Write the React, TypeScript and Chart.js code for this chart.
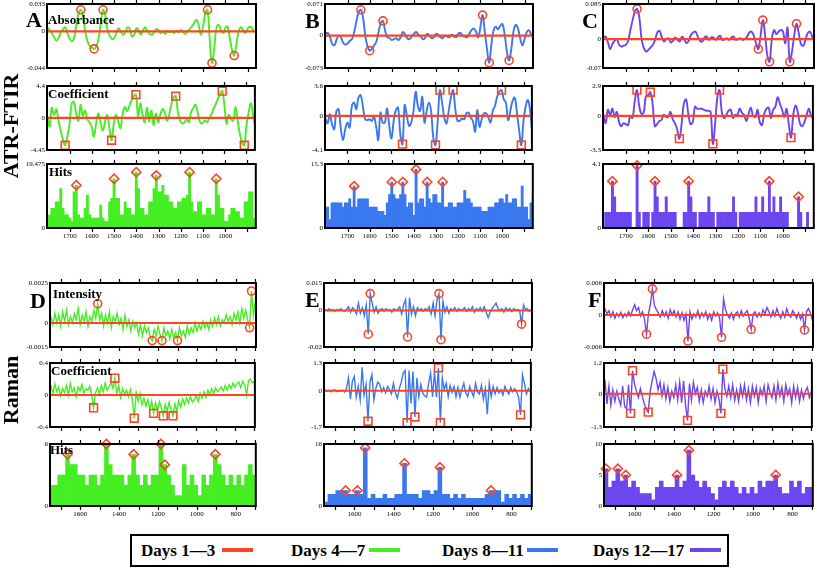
import React, { useEffect, useRef } from 'react';
import { Chart, registerables } from 'chart.js';

Chart.register(...registerables);

const SERIF = "'Liberation Serif', 'Times New Roman', Times, serif";
Chart.defaults.font.family = SERIF;

// ---------- colours ----------
const GREEN = '#44ee22';
const BLUE = '#3a78f0';
const PURPLE = '#6e46f0';
const RED = '#ff4422';

// ---------- legend ----------
const SERIES_NAMES = ['Days 1\u20143', 'Days 4\u20147', 'Days 8\u201411', 'Days 12\u201417'];
const SERIES_COLORS = [RED, GREEN, BLUE, PURPLE];

// ---------- x axes ----------
const ATR_X_MAX = 1802;
const ATR_X_MIN = 862;
const ATR_X_TICKS = [1700, 1600, 1500, 1400, 1300, 1200, 1100, 1000, 900];
const ATR_X_LABELS = ['1700', '1600', '1500', '1400', '1300', '1200', '1100', '1000', ''];
const RAMAN_X_MAX = 1755;
const RAMAN_X_MIN = 697;
const RAMAN_X_TICKS = [1700, 1600, 1500, 1400, 1300, 1200, 1100, 1000, 900, 800, 700];
const RAMAN_X_LABELS = ['', '1600', '', '1400', '', '1200', '', '1000', '', '800', ''];

// wavenumber sampling positions (categories)
const ATR_WN = Array.from({ length: 96 }, (_, i) => 1800 - 10 * i);
const RAMAN_WN = Array.from({ length: 106 }, (_, i) => 1750 - 10 * i);
const RAMAN_BIN_WN = Array.from({ length: 53 }, (_, i) => 1745 - 20 * i);

// ---------- ATR-FTIR, days 4-7 (A) ----------
const A_ABS = [0.004,0.002,-0.002,-0.007,-0.011,-0.008,-0.001,0.003,0.005,-0.002,-0.009,-0.012,-0.008,0.008,0.022,0.026,0.018,0,-0.012,-0.017,-0.019,-0.021,-0.018,-0.008,0.010,0.026,0.020,0.002,-0.005,-0.009,-0.008,-0.002,0.004,0,-0.004,-0.001,0.005,0.003,-0.006,-0.004,0.004,0.001,-0.004,0.001,0.005,0,-0.003,-0.004,-0.001,0.003,0.001,-0.002,0,-0.003,0.001,-0.001,0,-0.002,0.001,-0.001,0.002,-0.001,-0.003,0,0.003,0.006,0.010,0.014,0.008,-0.004,0.006,0.022,0.026,-0.010,-0.038,-0.020,0.004,0.008,0.002,-0.002,0.004,0.006,-0.008,-0.022,-0.029,-0.015,0,0.005,0.002,-0.002,0.003,0.006,0.004,0,0.001,0];
const A_ABS_MARKS = [15, 21, 25, 72, 74, 84];
const A_COEF = [0.2,-1.2,1.4,0.4,1.2,-0.4,-1.8,-3.0,-3.8,-2.6,-0.8,2.0,2.2,0.6,-0.4,1.8,0.3,1.0,-0.2,-0.6,-1.2,-2.6,-0.8,0.6,-0.6,-1.8,-0.6,0.4,-1.4,-3.1,-0.8,0.4,-0.5,-1.4,0.5,1.5,0.9,1.6,2.4,3.0,3.2,0.2,2.0,0.4,-0.6,1.4,-0.5,1.0,-1.0,0.6,-0.6,0.4,1.2,0.8,-0.4,0.4,1.8,2.8,3.0,0.8,-0.4,-0.8,-0.6,-0.2,-0.6,0.8,1.4,1.8,0.6,-0.6,-0.8,-0.4,-0.6,-0.2,0.4,1.2,1.8,2.6,3.2,3.7,1.8,-0.8,0.4,-0.2,-0.4,1.5,-0.4,-2.2,-3.4,-3.8,-1.0,0.8,2.0,0.4,-1.2,-1.9];
const A_COEF_MARKS = [8, 29, 40, 58, 79, 89];
const A_HITS = [3,4,6,6,8,8,12,6,4,4,3,2,11,13,4,3,3,6,10,4,3,3,3,3,7,3,2,2,8,9,15,9,9,4,4,8,6,6,4,4,17,12,6,6,4,4,8,8,12,16,11,11,13,10,10,8,8,6,6,8,8,9,9,10,17,8,5,5,8,8,4,4,6,6,4,4,15,10,6,6,2,2,4,6,6,5,5,3,3,8,8,11,11,3,3,3];
const A_HITS_MARKS = [13, 30, 40, 49, 64, 76];

// ---------- ATR-FTIR, days 8-11 (B) ----------
const B_ABS = [0.004,0.006,-0.002,-0.018,-0.022,-0.010,0,-0.004,-0.016,-0.020,-0.018,-0.012,-0.008,0.008,0.032,0.052,0.058,0.040,0,-0.024,-0.034,-0.030,-0.022,-0.014,0.008,0.028,0.033,0.010,-0.004,-0.006,-0.010,-0.008,-0.006,-0.010,-0.004,0.008,0.002,-0.006,-0.008,-0.002,0.004,0.008,0.002,-0.002,-0.008,-0.006,0.004,0,-0.006,-0.004,0.004,0.002,-0.004,-0.006,0,-0.002,-0.004,0.002,-0.002,-0.004,0.004,0.006,0,-0.002,-0.004,0.004,0.012,0.016,0.010,-0.004,0.018,0.046,0.010,-0.030,-0.061,-0.020,0.012,0.020,0.014,0.022,0.026,0.002,-0.036,-0.056,-0.030,0.010,0.024,0.016,-0.006,-0.022,-0.008,0.008,0.012,0.002,-0.002,-0.004];
const B_ABS_MARKS = [16, 20, 26, 71, 74, 83];
const B_COEF = [-0.3,-0.9,0.2,-1.0,-1.6,0.6,0.8,-1.6,-2.9,-1.6,-0.8,-1.4,1.2,1.6,0.8,2.2,2.5,1.2,-0.4,-0.5,-0.4,-0.6,-0.1,-1.2,-2.9,0.4,-0.8,-0.8,0.9,-1.2,-2.7,-0.6,0.7,1.0,-2.2,-3.4,1.3,0.0,-1.2,-0.8,0.6,2.9,1.2,0.6,2.3,-0.8,0.6,1.6,0.6,-2.6,-3.5,-0.6,3.1,1.6,-0.2,-0.9,0.6,2.2,3.1,0.8,-0.6,-0.6,-0.3,-0.4,0.3,0.4,-0.2,-0.6,-1.9,0.7,-1.3,-0.4,0.3,0.3,-0.2,-0.8,0.6,1.2,2.3,2.9,3.1,2.0,1.6,-0.5,0.6,1.8,2.2,0.4,-1.7,-3.5,-0.6,1.2,1.9,0.6,-2.0,-2.4];
const B_COEF_MARKS = [35, 50, 52, 58, 80, 89];
const B_HITS = [5,5,2,6,6,6,6,6,5,6,6,7,5,10,5,7,7,7,7,7,5,5,5,5,4,4,4,3,6,8,11,8,7,7,8,11,8,5,6,6,3,14,6,7,7,5,11,7,6,8,8,6,6,11,5,5,6,6,5,5,6,6,6,9,7,7,6,5,5,5,5,4,4,4,5,5,5,6,6,7,7,6,8,6,6,7,7,5,5,10,5,5,2,6,8,8];
const B_HITS_MARKS = [13, 30, 35, 41, 46, 53];

// ---------- ATR-FTIR, days 12-17 (C) ----------
const C_ABS = [0.005,0.006,-0.008,-0.024,-0.012,-0.004,0,-0.014,-0.018,-0.016,-0.014,-0.004,0.022,0.046,0.066,0.073,0.052,0,-0.022,-0.030,-0.026,-0.020,-0.014,-0.002,0.016,0.020,0.004,-0.006,0,0.002,-0.008,-0.004,0.004,-0.002,-0.006,0.006,0,-0.010,-0.004,0.010,0.016,0.018,0.006,-0.004,-0.006,0.004,0.006,-0.002,0.004,0.004,-0.002,0.004,0.008,-0.002,0,0.002,-0.002,0.004,0.006,-0.002,0,0.002,-0.002,0,0.006,0.016,0.018,0.008,-0.010,-0.024,0.008,0.046,0.010,-0.040,-0.055,0,0.022,0.012,0.018,0.022,0.018,-0.010,0.028,-0.055,-0.030,0.010,0.037,0.014,-0.012,-0.016,-0.002,0.014,0.018,0.006,-0.006,-0.006];
const C_ABS_MARKS = [15, 69, 71, 74, 83, 86];
const C_COEF = [0.1,-0.7,0.6,0.1,0.7,-0.1,0.4,-0.6,-1.0,-0.7,-0.8,-0.9,0.0,-0.2,1.4,2.5,1.0,0.2,0.3,1.9,2.0,2.3,1.2,-1.0,-0.8,-0.5,-0.4,0.1,-0.1,-0.1,0.4,-0.3,-0.7,-1.3,-2.2,-0.8,1.2,1.6,0.2,-0.8,-0.6,0.9,0.7,0.7,0.7,0.6,0.5,0.5,0.4,-2.7,-0.8,1.8,2.5,0.4,-0.2,0.1,0.5,0.6,-0.2,0.1,0.1,0.7,0.3,0.1,-0.5,0.2,0.8,0.0,-0.1,0.6,-0.6,-0.9,0.2,0.7,0.8,-0.2,0.6,0.9,1.8,1.2,0.6,-0.1,0.7,-0.8,-2.1,0.1,1.0,0.4,-0.7,-1.0,-0.6,0.1,0.7,0.0,-0.2,0.1];
const C_COEF_MARKS = [15, 21, 34, 49, 52, 84];
const C_HITS = [0,1,1,1,3,2,1,1,1,1,1,1,1,0,0,4,1,0,1,1,1,0,1,3,2,1,1,1,2,1,1,1,1,0,0,0,1,1,3,2,1,1,0,1,1,1,1,2,1,1,0,1,1,1,1,1,1,1,2,1,0,1,1,1,1,1,1,1,2,1,1,2,1,1,3,1,2,1,1,2,1,1,1,0,0,0,0,2,1,0,0,1,0,0,0,0];
const C_HITS_MARKS = [4, 15, 23, 38, 74, 87];

// ---------- Raman, days 4-7 (D) ----------
const D_INT = [4e-4,-1e-4,6e-4,0,5e-4,-2e-4,7e-4,1e-4,8e-4,-1e-4,4e-4,0,6e-4,2e-4,9e-4,-1e-4,5e-4,1e-4,7e-4,-2e-4,4e-4,1e-4,8e-4,3e-4,12e-4,2e-4,6e-4,-2e-4,5e-4,0,7e-4,-3e-4,4e-4,1e-4,6e-4,-1e-4,3e-4,-4e-4,5e-4,-2e-4,2e-4,-5e-4,1e-4,-3e-4,0,-7e-4,-1e-4,-8e-4,-2e-4,-6e-4,-3e-4,-9e-4,-11e-4,-4e-4,-8e-4,-2e-4,-7e-4,-11e-4,-3e-4,-8e-4,-5e-4,-10e-4,-4e-4,-9e-4,-6e-4,-11e-4,-3e-4,-8e-4,-5e-4,-9e-4,-2e-4,-7e-4,-3e-4,-6e-4,0,-5e-4,-1e-4,-4e-4,1e-4,-3e-4,0,-4e-4,2e-4,-2e-4,3e-4,-1e-4,4e-4,-2e-4,2e-4,0,5e-4,1e-4,4e-4,-1e-4,6e-4,2e-4,7e-4,0,9e-4,3e-4,8e-4,2e-4,-3e-4,20e-4,5e-4,14e-4];
const D_INT_MARKS = [24, 52, 57, 65, 102, 103];
const D_COEF = [0.12,0.02,0.14,0.04,0.10,-0.01,0.08,0.03,0.12,0,0.15,0.04,0.09,-0.02,0.10,0.05,0.13,0.02,0.08,0.06,0.11,0,-0.16,0.03,0.09,0.01,0.12,0.04,0.15,0.06,0.10,0.16,0.08,0.21,0.02,0.12,-0.03,0.08,0,0.06,-0.02,0.07,-0.05,-0.29,0.03,-0.08,0.02,-0.12,-0.04,-0.14,-0.06,-0.18,-0.08,-0.23,-0.10,-0.19,-0.08,-0.16,-0.26,-0.12,-0.20,-0.09,-0.18,-0.26,-0.11,-0.20,-0.07,-0.15,-0.05,-0.12,-0.04,-0.10,-0.02,-0.09,-0.06,-0.01,-0.08,0.02,-0.04,0.04,-0.03,0.06,0,0.08,0.02,0.09,0.04,0.07,0.10,0.05,0.12,0.06,0.13,0.08,0.15,0.10,0.14,0.16,0.09,0.17,0.13,0,0.18,0.20,0.15,0.17];
const D_COEF_MARKS = [22, 33, 43, 53, 58, 63];
const D_HITS = [2,2,3,3,5,4,4,3,3,2,3,3,2,3,6,4,3,3,3,2,3,5,3,2,3,2,3,3,6,4,3,2,1,1,4,2,3,2,1,3,2,3,5,4,3,2,3,2,3,2,3,4,3];
const D_HITS_MARKS = [4, 14, 21, 28, 29, 42];

// ---------- Raman, days 8-11 (E) ----------
const E_INT = [0.5e-3,0,1e-3,0.2e-3,0.5e-3,-0.5e-3,0.5e-3,0,1e-3,0,-0.5e-3,0.5e-3,2e-3,-1e-3,1.5e-3,0.5e-3,-2e-3,4e-3,-1.5e-3,1.5e-3,-3e-3,3e-3,-13e-3,9.2e-3,4e-3,-1e-3,2e-3,-1.5e-3,0.5e-3,1e-3,-0.5e-3,1e-3,0,0.5e-3,-1e-3,1e-3,0,0.5e-3,2e-3,-2e-3,3e-3,6e-3,-14.5e-3,7e-3,-2e-3,2e-3,-3e-3,1.5e-3,0,1e-3,-0.5e-3,1e-3,0,2e-3,-2e-3,4e-3,-3e-3,6e-3,9.2e-3,-16e-3,5e-3,-1e-3,2e-3,-1.5e-3,1e-3,0,1.5e-3,-0.5e-3,1e-3,0,0.5e-3,1.5e-3,-0.5e-3,1e-3,0,2e-3,-1e-3,1e-3,0,1.5e-3,-0.5e-3,2e-3,-1e-3,-4e-3,-1e-3,1e-3,2.5e-3,4e-3,1e-3,0,1e-3,-1e-3,1.5e-3,0,1e-3,-0.5e-3,1e-3,0,0.5e-3,0,-7.5e-3,3e-3,0.5e-3,1e-3,-0.5e-3,0.5e-3];
const E_INT_MARKS = [22, 23, 42, 58, 59, 100];
const E_COEF = [0.05,-0.03,0.02,-0.05,0,0.04,-0.04,0.01,-0.02,0.03,-0.06,0.10,0.60,-0.40,0.45,0.67,-0.30,0.20,-0.44,1.10,-0.20,0.30,-1.43,0.40,0.75,-0.44,0.10,0.40,0.30,-0.05,0.15,-0.10,0.20,0.05,-0.15,0.35,-0.10,-0.36,0.10,0.40,0.83,0.95,-1.50,0.95,-0.60,0.90,-1.23,0.60,-0.28,0.30,-0.10,-0.25,-0.30,0.35,0.83,-0.28,0.90,-0.30,1.07,-1.50,0.60,0.05,0.35,-0.28,0.25,-0.08,0.20,-0.28,0.15,-0.30,0.05,0.35,-0.10,-0.28,0.20,-0.05,-0.28,0.35,-0.05,-0.15,0.25,-0.40,0.10,-1.10,0.35,-0.28,0.20,-0.15,0.15,-0.10,0.05,-0.20,0.20,0,-0.15,0.15,-0.05,0.10,-0.05,-0.30,-1.13,0.75,0.35,-0.15,0.10,-0.05];
const E_COEF_MARKS = [22, 42, 46, 58, 59, 100];
const E_HITS = [1,3,3,4,4,4,3,3,4,3,15,2,3,2,2,3,2,2,3,3,11,3,3,3,2,4,4,3,4,10,3,3,2,3,2,3,2,2,2,2,2,3,4,4,4,1,3,2,3,2,3,2,3];
const E_HITS_MARKS = [5, 8, 10, 20, 29, 42];

// ---------- Raman, days 12-17 (F) ----------
const F_INT = [1.2e-3,0.2e-3,0.8e-3,-0.4e-3,0.6e-3,-0.6e-3,0.3e-3,-0.3e-3,0.5e-3,-0.5e-3,0.2e-3,-0.3e-3,0.6e-3,-0.2e-3,1.0e-3,1.9e-3,0.8e-3,1.4e-3,-0.2e-3,0.6e-3,-0.8e-3,-3.6e-3,0.2e-3,2.0e-3,4.9e-3,1.8e-3,1.0e-3,0.4e-3,-0.4e-3,0.8e-3,-0.2e-3,0.6e-3,-0.6e-3,1.0e-3,0,0.8e-3,-0.4e-3,0.6e-3,-0.8e-3,0.4e-3,-1.0e-3,0.2e-3,-4.9e-3,0.6e-3,-0.8e-3,0.2e-3,-0.4e-3,0.8e-3,-0.6e-3,0.4e-3,-0.3e-3,0.6e-3,-0.8e-3,0.2e-3,-1.0e-3,0.6e-3,-0.2e-3,0.4e-3,-0.6e-3,-4.2e-3,3.0e-3,1.0e-3,0,-0.6e-3,0.4e-3,-0.8e-3,0.2e-3,0.6e-3,-0.4e-3,0.8e-3,-0.2e-3,0.4e-3,0.8e-3,-0.6e-3,-2.7e-3,0.2e-3,0.6e-3,-0.4e-3,0.4e-3,-0.3e-3,1.0e-3,0.2e-3,1.4e-3,0.6e-3,-0.4e-3,0.8e-3,-0.2e-3,1.2e-3,0.2e-3,-0.6e-3,0.6e-3,-0.4e-3,1.2e-3,0,-0.4e-3,0.8e-3,0.2e-3,-0.6e-3,0.4e-3,-0.8e-3,0.2e-3,-2.8e-3,0.6e-3,1.2e-3,0.4e-3,-1.0e-3];
const F_INT_MARKS = [21, 24, 42, 59, 74, 101];
const F_COEF = [0.55,-0.40,0.30,-0.45,0.15,-0.30,0.10,-0.20,-0.45,0.30,-0.50,-0.60,0.35,-0.77,0.90,0.40,0.10,-0.15,0.20,-0.10,-0.40,-0.60,-0.72,0.10,0.50,0.87,0.60,0.15,0.45,-0.10,0.35,-0.20,0.25,-0.30,0.10,-0.15,0.35,-0.25,0.45,-0.35,0.50,-0.45,-1.04,0.40,-0.25,0.45,0,0.25,-0.30,0.15,-0.35,0.10,-0.10,0.30,-0.20,0.20,-0.35,0.10,-0.20,-0.77,0.96,0.20,-0.10,0.30,-0.15,0.35,-0.25,0.15,-0.30,0.30,-0.10,0.35,-0.25,0.20,-0.35,0.30,-0.10,0.25,-0.35,0.20,-0.05,0.30,-0.30,0.35,0.05,-0.15,0.30,-0.25,0.40,-0.10,0.25,-0.30,0.35,-0.05,0.20,-0.35,0.30,-0.15,0.25,-0.30,0.15,-0.20,0.10,0.25,-0.15,0.10];
const F_COEF_MARKS = [13, 14, 22, 42, 59, 60];
const F_HITS = [6,3,4,6,4,5,3,4,3,2,2,2,1,3,4,3,3,3,5,3,4,9,5,4,3,4,3,2,1,3,4,3,4,3,2,3,2,3,2,4,3,4,4,5,3,2,2,4,3,4,2,3,3];
const F_HITS_MARKS = [0, 3, 5, 18, 21, 43];

// ---------- panel geometry (plot boxes) ----------
const ATR_COL_L = [47, 325, 603];
const ATR_COL_R = [256, 533, 814];
const ATR_ROW_T = [4, 86, 164];
const ATR_ROW_B = [68, 150, 228];
const RAMAN_COL_L = [50, 324, 604];
const RAMAN_COL_R = [256, 532, 813];
const RAMAN_ROW_T = [283, 363, 444];
const RAMAN_ROW_B = [347, 427, 506];

const YW = 40;
const TOPM = 10;
const RIGHTM = 6;
const TICK_LEN = 3;

type Marker = 'circle' | 'rect' | 'rectRot';
interface PanelSpec {
  key: string;
  kind: 'line' | 'hits';
  xs: number[];
  ys: number[];
  marks: number[];
  marker: Marker;
  color: string;
  yMin: number;
  yMax: number;
  yTicks: number[];
  yLabels: string[];
  l: number; t: number; r: number; b: number;
  xMin: number; xMax: number;
  xTicks: number[]; xLabels: string[];
  showX: boolean;
  tension: number;
  lw: number;
  zw: number;
}

const MARKER_BY_ROW: Marker[] = ['circle', 'rect', 'rectRot'];

function atr(col: number, row: number, key: string, ys: number[], marks: number[], color: string,
  yMin: number, yMax: number, yLabels: string[]): PanelSpec {
  const hits = row === 2;
  return {
    key, kind: hits ? 'hits' : 'line', xs: ATR_WN, ys, marks, marker: MARKER_BY_ROW[row], color,
    yMin, yMax, yTicks: hits ? [0, yMax] : [yMin, 0, yMax], yLabels,
    l: ATR_COL_L[col], r: ATR_COL_R[col], t: ATR_ROW_T[row], b: ATR_ROW_B[row],
    xMin: ATR_X_MIN, xMax: ATR_X_MAX, xTicks: ATR_X_TICKS, xLabels: ATR_X_LABELS,
    showX: row === 2, tension: 0.4, lw: 1.9, zw: 2.2,
  };
}

function raman(col: number, row: number, key: string, ys: number[], marks: number[], color: string,
  yMin: number, yMax: number, yTicks: number[], yLabels: string[]): PanelSpec {
  const hits = row === 2;
  return {
    key, kind: hits ? 'hits' : 'line', xs: hits ? RAMAN_BIN_WN : RAMAN_WN, ys, marks, marker: MARKER_BY_ROW[row], color,
    yMin, yMax, yTicks, yLabels,
    l: RAMAN_COL_L[col], r: RAMAN_COL_R[col], t: RAMAN_ROW_T[row], b: RAMAN_ROW_B[row],
    xMin: RAMAN_X_MIN, xMax: RAMAN_X_MAX, xTicks: RAMAN_X_TICKS, xLabels: RAMAN_X_LABELS,
    showX: row === 2, tension: 0, lw: 1.4, zw: 2,
  };
}

const SPECS: PanelSpec[] = [
  atr(0, 0, 'A1', A_ABS, A_ABS_MARKS, GREEN, -0.044, 0.033, ['-0.044', '0', '0.033']),
  atr(0, 1, 'A2', A_COEF, A_COEF_MARKS, GREEN, -4.45, 4.4, ['-4.45', '0', '4.4']),
  atr(0, 2, 'A3', A_HITS, A_HITS_MARKS, GREEN, 0, 19.475, ['0', '19.475']),
  atr(1, 0, 'B1', B_ABS, B_ABS_MARKS, BLUE, -0.073, 0.071, ['-0.073', '0', '0.071']),
  atr(1, 1, 'B2', B_COEF, B_COEF_MARKS, BLUE, -4.1, 3.6, ['-4.1', '0', '3.6']),
  atr(1, 2, 'B3', B_HITS, B_HITS_MARKS, BLUE, 0, 15.3, ['0', '15.3']),
  atr(2, 0, 'C1', C_ABS, C_ABS_MARKS, PURPLE, -0.07, 0.085, ['-0.07', '0', '0.085']),
  atr(2, 1, 'C2', C_COEF, C_COEF_MARKS, PURPLE, -3.3, 2.9, ['-3.3', '0', '2.9']),
  atr(2, 2, 'C3', C_HITS, C_HITS_MARKS, PURPLE, 0, 4.1, ['0', '4.1']),
  raman(0, 0, 'D1', D_INT, D_INT_MARKS, GREEN, -0.0015, 0.0025, [-0.0015, 0, 0.0025], ['-0.0015', '0', '0.0025']),
  raman(0, 1, 'D2', D_COEF, D_COEF_MARKS, GREEN, -0.4, 0.4, [-0.4, 0, 0.4], ['-0.4', '0', '0.4']),
  raman(0, 2, 'D3', D_HITS, D_HITS_MARKS, GREEN, 0, 6, [0, 6], ['0', '6']),
  raman(1, 0, 'E1', E_INT, E_INT_MARKS, BLUE, -0.02, 0.015, [-0.02, 0, 0.015], ['-0.02', '0', '0.015']),
  raman(1, 1, 'E2', E_COEF, E_COEF_MARKS, BLUE, -1.7, 1.3, [-1.7, 0, 1.3], ['-1.7', '0', '1.3']),
  raman(1, 2, 'E3', E_HITS, E_HITS_MARKS, BLUE, 0, 16, [0, 16], ['0', '16']),
  raman(2, 0, 'F1', F_INT, F_INT_MARKS, PURPLE, -0.006, 0.006, [-0.006, 0, 0.006], ['-0.006', '0', '0.006']),
  raman(2, 1, 'F2', F_COEF, F_COEF_MARKS, PURPLE, -1.3, 1.2, [-1.3, 0, 1.2], ['-1.3', '0', '1.2']),
  raman(2, 2, 'F3', F_HITS, F_HITS_MARKS, PURPLE, 0, 10, [0, 5, 10], ['0', '5', '10']),
];

// frame around the plot area plus outward tick marks on the top and bottom edges,
// placed with the chart's own x scale
const framePlugin = {
  id: 'frame',
  afterDatasetsDraw(chart: any) {
    const { ctx, chartArea: a } = chart;
    const xs = chart.scales.x;
    ctx.save();
    ctx.strokeStyle = '#000';
    ctx.lineWidth = 1.2;
    ctx.beginPath();
    for (const t of xs.ticks) {
      const px = Math.round(xs.getPixelForValue(t.value)) + 0.5;
      ctx.moveTo(px, a.top - TICK_LEN - 1);
      ctx.lineTo(px, a.top);
      ctx.moveTo(px, a.bottom);
      ctx.lineTo(px, a.bottom + TICK_LEN + 1);
    }
    ctx.stroke();
    ctx.lineWidth = 2;
    ctx.strokeRect(a.left, a.top, a.right - a.left, a.bottom - a.top);
    ctx.restore();
  },
};

function Panel({ s }: { s: PanelSpec }) {
  const ref = useRef<HTMLCanvasElement>(null);
  const bottomM = s.showX ? 20 : 10;
  const W = s.r - s.l + YW + RIGHTM;
  const H = s.b - s.t + TOPM + bottomM;

  useEffect(() => {
    if (!ref.current) return;
    const pts = s.ys.map((v, i) => ({ x: s.xs[i], y: v }));
    const markPts = s.marks.map((i) => ({ x: s.xs[i], y: s.ys[i] }));
    const datasets: any[] = [];
    if (s.kind === 'line') {
      datasets.push({
        type: 'line', data: pts, borderColor: s.color, borderWidth: s.lw, pointRadius: 0,
        tension: s.tension, order: 3,
      });
      datasets.push({
        type: 'line', data: [{ x: s.xMin, y: 0 }, { x: s.xMax, y: 0 }], borderColor: RED,
        borderWidth: s.zw, pointRadius: 0, order: 2,
      });
    } else {
      datasets.push({
        type: 'bar', data: pts, backgroundColor: s.color, borderWidth: 0,
        barPercentage: 1, categoryPercentage: 1, grouped: false, order: 3,
      });
    }
    datasets.push({
      type: 'line', data: markPts, showLine: false, pointStyle: s.marker,
      pointRadius: s.marker === 'rect' ? 5.5 : s.marker === 'rectRot' ? 4.6 : 4,
      pointBorderColor: RED, pointBackgroundColor: 'rgba(0,0,0,0)', pointBorderWidth: 1.6,
      clip: false, order: 1,
    });

    const chart = new Chart(ref.current, {
      type: 'line',
      data: { datasets },
      plugins: [framePlugin],
      options: {
        responsive: false,
        maintainAspectRatio: false,
        devicePixelRatio: 1,
        animation: false,
        events: [],
        layout: { padding: { left: 0, right: RIGHTM, top: TOPM, bottom: 0 } },
        plugins: { legend: { display: false }, tooltip: { enabled: false }, title: { display: false } },
        scales: {
          x: {
            type: 'linear', position: 'bottom', reverse: true, min: s.xMin, max: s.xMax, offset: false,
            afterBuildTicks: (ax: any) => { ax.ticks = s.xTicks.map((v) => ({ value: v })); },
            afterFit: (ax: any) => { ax.height = bottomM; },
            ticks: {
              display: s.showX, autoSkip: false, maxRotation: 0, padding: 4, color: '#000',
              font: { family: SERIF, size: 7 },
              callback: (_v: any, i: number) => s.xLabels[i],
            },
            grid: { display: false, drawOnChartArea: false, drawTicks: false },
            border: { display: false },
          },
          y: {
            type: 'linear', position: 'left', min: s.yMin, max: s.yMax,
            afterBuildTicks: (ax: any) => { ax.ticks = s.yTicks.map((v) => ({ value: v })); },
            afterFit: (ax: any) => { ax.width = YW; },
            ticks: {
              autoSkip: false, padding: 2, color: '#000', font: { family: SERIF, size: 7 },
              callback: (_v: any, i: number) => s.yLabels[i],
            },
            grid: { display: true, drawOnChartArea: false, drawTicks: false },
            border: { display: false },
          },
        },
      } as any,
    } as any);
    return () => chart.destroy();
  }, []);

  return (
    <canvas
      ref={ref}
      width={W}
      height={H}
      style={{ position: 'absolute', left: s.l - YW, top: s.t - TOPM, width: W, height: H }}
    />
  );
}

// ---------- text labels ----------
const PANEL_LETTERS = [
  { text: 'A', x: 26, y: 27 }, { text: 'B', x: 305, y: 28 }, { text: 'C', x: 582, y: 28 },
  { text: 'D', x: 30, y: 308 }, { text: 'E', x: 305, y: 307 }, { text: 'F', x: 588, y: 307 },
];
const ROW_TITLES = [
  { text: 'Absorbance', x: 48, y: 24 }, { text: 'Coefficient', x: 48, y: 98 }, { text: 'Hits', x: 49, y: 176 },
  { text: 'Intensity', x: 53, y: 298 }, { text: 'Coefficient', x: 51, y: 375 }, { text: 'Hits', x: 50, y: 454 },
];
const SIDE_TITLES = [
  { text: 'ATR-FTIR', cy: 126 }, { text: 'Raman', cy: 390 },
];
const LEGEND_TEXT_X = [141, 291, 442, 593];
const LEGEND_SWATCH_X = [222, 369, 527, 690];

function Txt({ x, y, size, text }: { x: number; y: number; size: number; text: string }) {
  return (
    <div style={{
      position: 'absolute', left: x, top: y - 0.8375 * size, fontSize: size, lineHeight: `${size}px`,
      fontWeight: 'bold', fontFamily: SERIF, whiteSpace: 'nowrap', color: '#000',
    }}>{text}</div>
  );
}

function VTxt({ cx, cy, size, text }: { cx: number; cy: number; size: number; text: string }) {
  const w = 160;
  return (
    <div style={{
      position: 'absolute', left: cx - w / 2, top: cy - size / 2, width: w, height: size,
      lineHeight: `${size}px`, fontSize: size, fontWeight: 'bold', fontFamily: SERIF,
      textAlign: 'center', transform: 'rotate(-90deg)', whiteSpace: 'nowrap', color: '#000',
    }}>{text}</div>
  );
}

export default function App() {
  return (
    <div style={{
      position: 'absolute', left: 0, top: 0, width: 817, height: 569, background: '#fff',
      overflow: 'hidden', fontFamily: SERIF,
    }}>
      {SPECS.map((s) => <Panel key={s.key} s={s} />)}
      {PANEL_LETTERS.map((p) => <Txt key={p.text} x={p.x} y={p.y} size={22} text={p.text} />)}
      {ROW_TITLES.map((p, i) => <Txt key={i} x={p.x} y={p.y} size={13} text={p.text} />)}
      {SIDE_TITLES.map((p) => <VTxt key={p.text} cx={11} cy={p.cy} size={22} text={p.text} />)}
      <div style={{
        position: 'absolute', left: 130, top: 534, width: 599, height: 33, boxSizing: 'border-box',
        border: '2px solid #000', background: '#fff',
      }} />
      {SERIES_NAMES.map((n, i) => (
        <React.Fragment key={n}>
          <Txt x={LEGEND_TEXT_X[i]} y={556} size={17} text={n} />
          <div style={{
            position: 'absolute', left: LEGEND_SWATCH_X[i], top: 548, width: 31, height: 4,
            background: SERIES_COLORS[i],
          }} />
        </React.Fragment>
      ))}
    </div>
  );
}
